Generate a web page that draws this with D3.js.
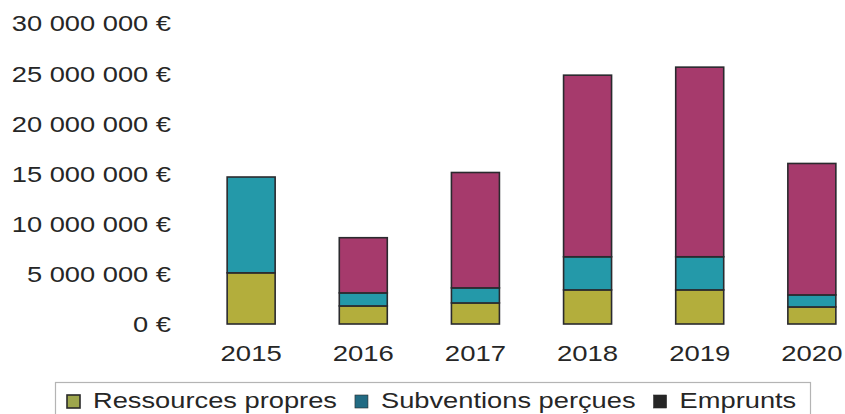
<!DOCTYPE html>
<html lang="fr">
<head>
<meta charset="utf-8">
<script src="https://cdn.jsdelivr.net/npm/d3@7"></script>
<style>
  html, body { margin: 0; padding: 0; background: #fff; }
  svg { display: block; }
  text { font-family: "Liberation Sans", Arial, Helvetica, sans-serif; fill: #262626; }
</style>
</head>
<body>
<svg id="chart" width="845" height="414"></svg>
<script>
// Financement des investissements, 2015-2020 (en euros)
const years = ["2015", "2016", "2017", "2018", "2019", "2020"];
const ressourcesPropres = [5100000, 1800000, 2100000, 3400000, 3400000, 1700000];
const subventionsPercues = [9550000, 1300000, 1500000, 3300000, 3300000, 1200000];
const emprunts = [0, 5500000, 11500000, 18100000, 18900000, 13100000];
const seriesNames = ["Ressources propres", "Subventions perçues", "Emprunts"];
const yTicks = [0, 5000000, 10000000, 15000000, 20000000, 25000000, 30000000];

const barColors = ["#b3ae3c", "#2499a9", "#a63a6c"];
const legendColors = ["#9ea64c", "#226b83", "#262626"];

const rows = years.map((y, i) => ({
  year: y,
  "Ressources propres": ressourcesPropres[i],
  "Subventions perçues": subventionsPercues[i],
  "Emprunts": emprunts[i]
}));

const svg = d3.select("#chart");

const x = d3.scaleBand().domain(years).range([163, 900]).padding(0.572);
const y = d3.scaleLinear().domain([0, 30000000]).range([324, 23]);

const fr = d3.formatLocale({ decimal: ",", thousands: " ", grouping: [3], currency: ["", " €"] });
const fmt = v => fr.format(",.0f")(v) + " €";

// Y axis labels (no line, no tick marks)
const yAxis = svg.append("g")
  .attr("transform", "translate(171,0)")
  .call(d3.axisLeft(y).tickValues(yTicks).tickSize(0).tickFormat(fmt));
yAxis.select(".domain").remove();
yAxis.selectAll(".tick text")
  .attr("x", 0).attr("dy", "0.36em")
  .attr("transform", "scale(1.24,1)")
  .style("font-size", "22px")
  .style("font-family", "'Liberation Sans', Arial, sans-serif")
  .attr("fill", "#262626");

// X axis labels
const xAxis = svg.append("g")
  .attr("transform", "translate(0,324)")
  .call(d3.axisBottom(x).tickSize(0));
xAxis.select(".domain").remove();
xAxis.selectAll(".tick text")
  .attr("y", 0).attr("dy", 0)
  .attr("transform", "translate(0,37) scale(1.25,1)")
  .style("font-size", "22px")
  .style("font-family", "'Liberation Sans', Arial, sans-serif")
  .attr("fill", "#262626");

// Stacked bars
const stack = d3.stack().keys(seriesNames)(rows);
svg.append("g").selectAll("g")
  .data(stack)
  .join("g")
  .attr("fill", (d, i) => barColors[i])
  .selectAll("rect")
  .data(d => d.filter(s => s[1] - s[0] > 0))
  .join("rect")
  .attr("x", d => x(d.data.year))
  .attr("width", x.bandwidth())
  .attr("y", d => y(d[1]))
  .attr("height", d => y(d[0]) - y(d[1]))
  .attr("stroke", "#2a2a2e")
  .attr("stroke-width", 1.6);

// Legend
const legend = svg.append("g");
legend.append("rect")
  .attr("x", 55.5).attr("y", 382.5)
  .attr("width", 755).attr("height", 40)
  .attr("fill", "#fff").attr("stroke", "#b4b4b4").attr("stroke-width", 1.2);

const sx = 1.24;
let cx = 67;
seriesNames.forEach((name, i) => {
  legend.append("rect")
    .attr("x", cx).attr("y", 395)
    .attr("width", 13).attr("height", 13)
    .attr("fill", legendColors[i])
    .attr("stroke", "#2a2a2a").attr("stroke-width", i === 0 ? 1.6 : 0.6);
  const t = legend.append("text")
    .attr("transform", `translate(${cx + 26},408) scale(${sx},1)`)
    .style("font-size", "22px")
    .text(name);
  const w = t.node().getComputedTextLength() * sx;
  cx += 26 + w + 18;
});
</script>
</body>
</html>
